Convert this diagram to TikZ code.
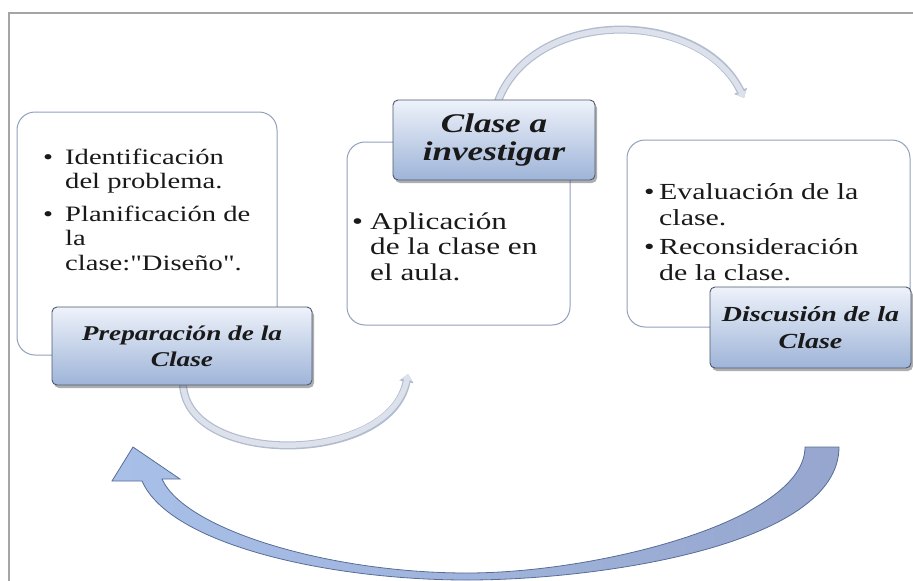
\documentclass[tikz,border=0pt]{standalone}
\usepackage{fontspec}
\setmainfont{Liberation Serif}[FakeStretch=1.3]
\newfontfamily\qfont{Liberation Serif}[FakeStretch=1.3]
\usetikzlibrary{arrows.meta,shadows}
\definecolor{framegray}{RGB}{165,165,165}
\definecolor{boxline}{RGB}{145,160,188}
\definecolor{titleline}{RGB}{75,88,110}
\definecolor{titletop}{RGB}{238,242,250}
\definecolor{titlebot}{RGB}{158,180,216}
\definecolor{arcdark}{RGB}{178,188,207}
\definecolor{arclight}{RGB}{220,225,236}
\definecolor{bigleft}{RGB}{168,192,232}
\definecolor{bigright}{RGB}{150,166,206}
\definecolor{bigline}{RGB}{88,108,150}
\definecolor{txt}{RGB}{25,25,25}
\begin{document}
\begin{tikzpicture}[x=1pt,y=-1pt,
  bodybox/.style={draw=boxline,line width=1pt,fill=white,rounded corners=18pt,inner sep=0pt,outer sep=0pt},
  titlebox/.style={draw=titleline,line width=0.9pt,rounded corners=5pt,top color=titletop,bottom color=titlebot,
    inner sep=0pt,outer sep=0pt,align=center,text=txt,
    drop shadow={shadow xshift=2pt,shadow yshift=-3pt,opacity=0.45,fill=black!70}},
  bodytext/.style={anchor=base west,inner sep=0pt,text=txt},
  arcouter/.style={draw=arcdark,line width=8pt,-{Triangle[length=8pt,width=14pt]}},
  arcinner/.style={draw=arclight,line width=5.5pt,-{Triangle[length=6pt,width=10pt]}}
]
\useasboundingbox (0,0) rectangle (913,581);
% frame
\draw[framegray,line width=1.2pt] (9,590) -- (9,13) -- (920,13);

% coordinates for arcs
\coordinate (topstart) at (497,104);
\coordinate (topend) at (744,98);
\coordinate (midstart) at (183,380);
\coordinate (midend) at (408,374);

% thin arcs
\draw[arcouter] (topstart) .. controls (530,7) and (700,7) .. (topend);
\draw[arcinner] (topstart) .. controls (530,7) and (700,7) .. (topend);
\draw[arcouter] (midstart) .. controls (180,467) and (390,467) .. (midend);
\draw[arcinner] (midstart) .. controls (180,467) and (390,467) .. (midend);

% big curved arrow
\path[draw=bigline,line width=0.8pt,left color=bigleft,right color=bigright]
  (839,447) .. controls (839,545) and (600,580) .. (467,580)
  .. controls (330,580) and (170,545) .. (142,481)
  -- (112,481) -- (133,447) -- (180,479) -- (162,479)
  .. controls (185,530) and (330,573) .. (467,573)
  .. controls (600,573) and (805,520) .. (805,447) -- cycle;

% body boxes
\node[bodybox,minimum width=260pt,minimum height=243pt] (b1) at (147,233.5) {};
\node[bodybox,minimum width=223pt,minimum height=183pt] (b2) at (458.5,233.5) {};
\node[bodybox,minimum width=283pt,minimum height=187pt] (b3) at (768.5,233.5) {};

% body texts
\node[bodytext,font=\fontsize{22}{24.5}\selectfont] (t1text) at (43,164)
  {\begin{tabular}[t]{@{}p{22pt}@{}l@{}}•&Identificación\\&del problema.\\[8pt]•&Planificación de\\&la\\&clase:{\qfont"}Diseño{\qfont"}.\end{tabular}};
\node[bodytext,font=\fontsize{24}{25.5}\selectfont] (t2text) at (352,229)
  {\begin{tabular}[t]{@{}p{18pt}@{}l@{}}•&Aplicación\\&de la clase en\\&el aula.\end{tabular}};
\node[bodytext,font=\fontsize{23}{26}\selectfont] (t3text) at (644,199)
  {\begin{tabular}[t]{@{}p{15pt}@{}l@{}}•&Evaluación de la\\&clase.\\[3pt]•&Reconsideración\\&de la clase.\end{tabular}};

% title boxes
\node[titlebox,minimum width=260pt,minimum height=78pt,font=\fontsize{21}{26}\selectfont\bfseries\itshape] (p1) at (182,346) {Preparación de la\\Clase};
\node[titlebox,minimum width=202pt,minimum height=80pt,font=\fontsize{27}{28}\selectfont\bfseries\itshape] (p2) at (494,140) {Clase a\\investigar};
\node[titlebox,minimum width=201pt,minimum height=81pt,font=\fontsize{21.5}{27}\selectfont\bfseries\itshape] (p3) at (810.5,327.5) {Discusión de la\\Clase};
\end{tikzpicture}
\end{document}
